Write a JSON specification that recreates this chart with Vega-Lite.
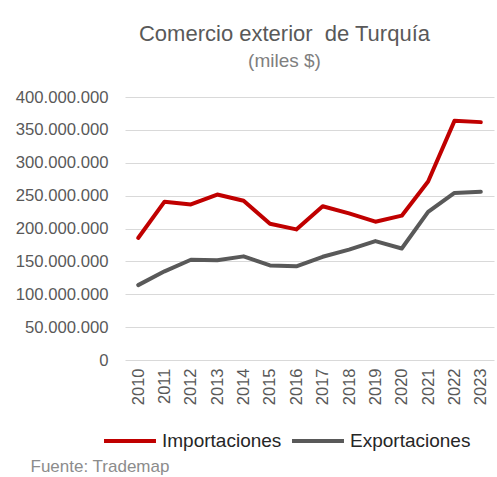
{
  "$schema": "https://vega.github.io/schema/vega-lite/v6.json",
  "width": 369,
  "height": 263,
  "autosize": {"type": "none"},
  "padding": {"left": 125, "top": 97, "right": 3, "bottom": 117},
  "background": "white",
  "config": {
    "locale": {"number": {"decimal": ",", "thousands": ".", "grouping": [3], "currency": ["", " $"]}},
    "view": {"stroke": null},
    "font": "Liberation Sans"
  },
  "title": {
    "text": "Comercio exterior\u00a0 de Turquía",
    "subtitle": "(miles $)",
    "anchor": "middle",
    "frame": "group",
    "dx": -25,
    "offset": 17,
    "fontSize": 22,
    "fontWeight": "normal",
    "color": "#595959",
    "subtitleFontSize": 19,
    "subtitleColor": "#7f7f7f",
    "subtitlePadding": 6
  },
  "data": {
    "values": [
      {"year": "2010", "serie": "Importaciones", "value": 185544000},
      {"year": "2011", "serie": "Importaciones", "value": 240842000},
      {"year": "2012", "serie": "Importaciones", "value": 236545000},
      {"year": "2013", "serie": "Importaciones", "value": 251661000},
      {"year": "2014", "serie": "Importaciones", "value": 242177000},
      {"year": "2015", "serie": "Importaciones", "value": 207234000},
      {"year": "2016", "serie": "Importaciones", "value": 198618000},
      {"year": "2017", "serie": "Importaciones", "value": 233800000},
      {"year": "2018", "serie": "Importaciones", "value": 223047000},
      {"year": "2019", "serie": "Importaciones", "value": 210345000},
      {"year": "2020", "serie": "Importaciones", "value": 219517000},
      {"year": "2021", "serie": "Importaciones", "value": 271426000},
      {"year": "2022", "serie": "Importaciones", "value": 363711000},
      {"year": "2023", "serie": "Importaciones", "value": 361786000},
      {"year": "2010", "serie": "Exportaciones", "value": 113883000},
      {"year": "2011", "serie": "Exportaciones", "value": 134907000},
      {"year": "2012", "serie": "Exportaciones", "value": 152462000},
      {"year": "2013", "serie": "Exportaciones", "value": 151803000},
      {"year": "2014", "serie": "Exportaciones", "value": 157610000},
      {"year": "2015", "serie": "Exportaciones", "value": 143839000},
      {"year": "2016", "serie": "Exportaciones", "value": 142530000},
      {"year": "2017", "serie": "Exportaciones", "value": 156993000},
      {"year": "2018", "serie": "Exportaciones", "value": 167921000},
      {"year": "2019", "serie": "Exportaciones", "value": 180833000},
      {"year": "2020", "serie": "Exportaciones", "value": 169638000},
      {"year": "2021", "serie": "Exportaciones", "value": 225214000},
      {"year": "2022", "serie": "Exportaciones", "value": 254170000},
      {"year": "2023", "serie": "Exportaciones", "value": 255809000}
    ]
  },
  "mark": {"type": "line", "strokeWidth": 4, "strokeCap": "round", "strokeJoin": "round"},
  "encoding": {
    "x": {
      "field": "year",
      "type": "ordinal",
      "scale": {"type": "point", "padding": 0.5},
      "axis": {
        "title": "Fuente: Trademap",
        "titleFontSize": 17,
        "titleFontWeight": "normal",
        "titleColor": "#8c8c8c",
        "titleAnchor": "start",
        "titleAlign": "left",
        "titleBaseline": "alphabetic",
        "titleX": -95,
        "titleY": 111,
        "labelAngle": -90,
        "labelFontSize": 16.5,
        "labelColor": "#595959",
        "labelPadding": 8,
        "domain": false,
        "ticks": false,
        "grid": false
      }
    },
    "y": {
      "field": "value",
      "type": "quantitative",
      "scale": {"domain": [0, 400000000]},
      "axis": {
        "title": null,
        "values": [0, 50000000, 100000000, 150000000, 200000000, 250000000, 300000000, 350000000, 400000000],
        "format": ",d",
        "labelFontSize": 16.7,
        "labelColor": "#595959",
        "labelPadding": 17,
        "domain": false,
        "ticks": false,
        "gridColor": "#d9d9d9",
        "gridWidth": 1
      }
    },
    "color": {
      "field": "serie",
      "type": "nominal",
      "sort": ["Importaciones", "Exportaciones"],
      "scale": {"domain": ["Importaciones", "Exportaciones"], "range": ["#c00000", "#595959"]},
      "legend": {
        "title": null,
        "orient": "none",
        "direction": "horizontal",
        "legendX": -23,
        "legendY": 316,
        "symbolType": "stroke",
        "symbolSize": 2700,
        "symbolStrokeWidth": 4,
        "labelFontSize": 19,
        "labelColor": "#262626",
        "labelOffset": 4,
        "columnPadding": 2
      }
    }
  }
}
